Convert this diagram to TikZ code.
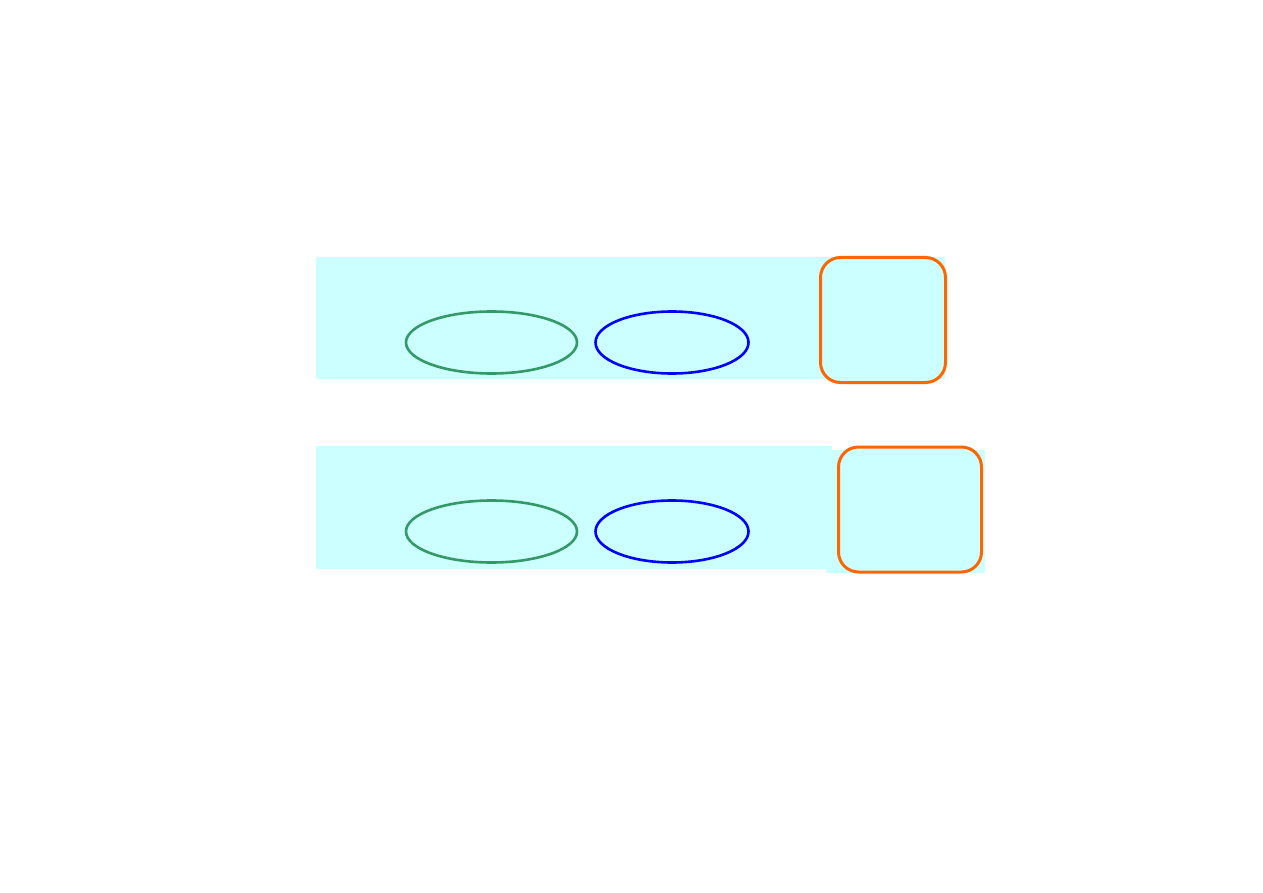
\documentclass[tikz,border=0pt]{standalone}
\usetikzlibrary{shapes.geometric}
\definecolor{bandcyan}{HTML}{CCFFFF}
\definecolor{ellgreen}{HTML}{339966}
\definecolor{boxorange}{HTML}{FF6600}
\begin{document}
\begin{tikzpicture}[x=1pt,y=-1pt,
  band/.style={rectangle, fill=bandcyan, draw=none, inner sep=0pt, outer sep=0pt, anchor=north west},
  greenell/.style={ellipse, draw=ellgreen, line width=2.6pt, fill=bandcyan, inner sep=0pt, minimum width=171pt, minimum height=62pt},
  blueell/.style={ellipse, draw=blue, line width=2.6pt, fill=bandcyan, inner sep=0pt, minimum width=153pt, minimum height=62pt},
  obox/.style={rectangle, rounded corners=20pt, draw=boxorange, line width=3pt, fill=bandcyan, inner sep=0pt, outer sep=0pt, anchor=north west}
]
\useasboundingbox (0,0) rectangle (1263,893);
% top row
\node[band, minimum width=629pt, minimum height=122pt] (band1) at (316,257) {};
\node[obox, minimum width=125pt, minimum height=125pt] (box1) at (820.5,257.5) {};
\node[greenell] (g1) at (491.5,342.5) {};
\node[blueell] (u1) at (672,342.5) {};
% bottom row
\node[band, minimum width=516pt, minimum height=123pt] (band2) at (316,446) {};
\node[band, minimum width=159pt, minimum height=123pt] (band3) at (826,450) {};
\node[obox, minimum width=143pt, minimum height=125pt] (box2) at (838.5,447) {};
\node[greenell] (g2) at (491.5,531.5) {};
\node[blueell] (u2) at (672,531.5) {};
\end{tikzpicture}
\end{document}
